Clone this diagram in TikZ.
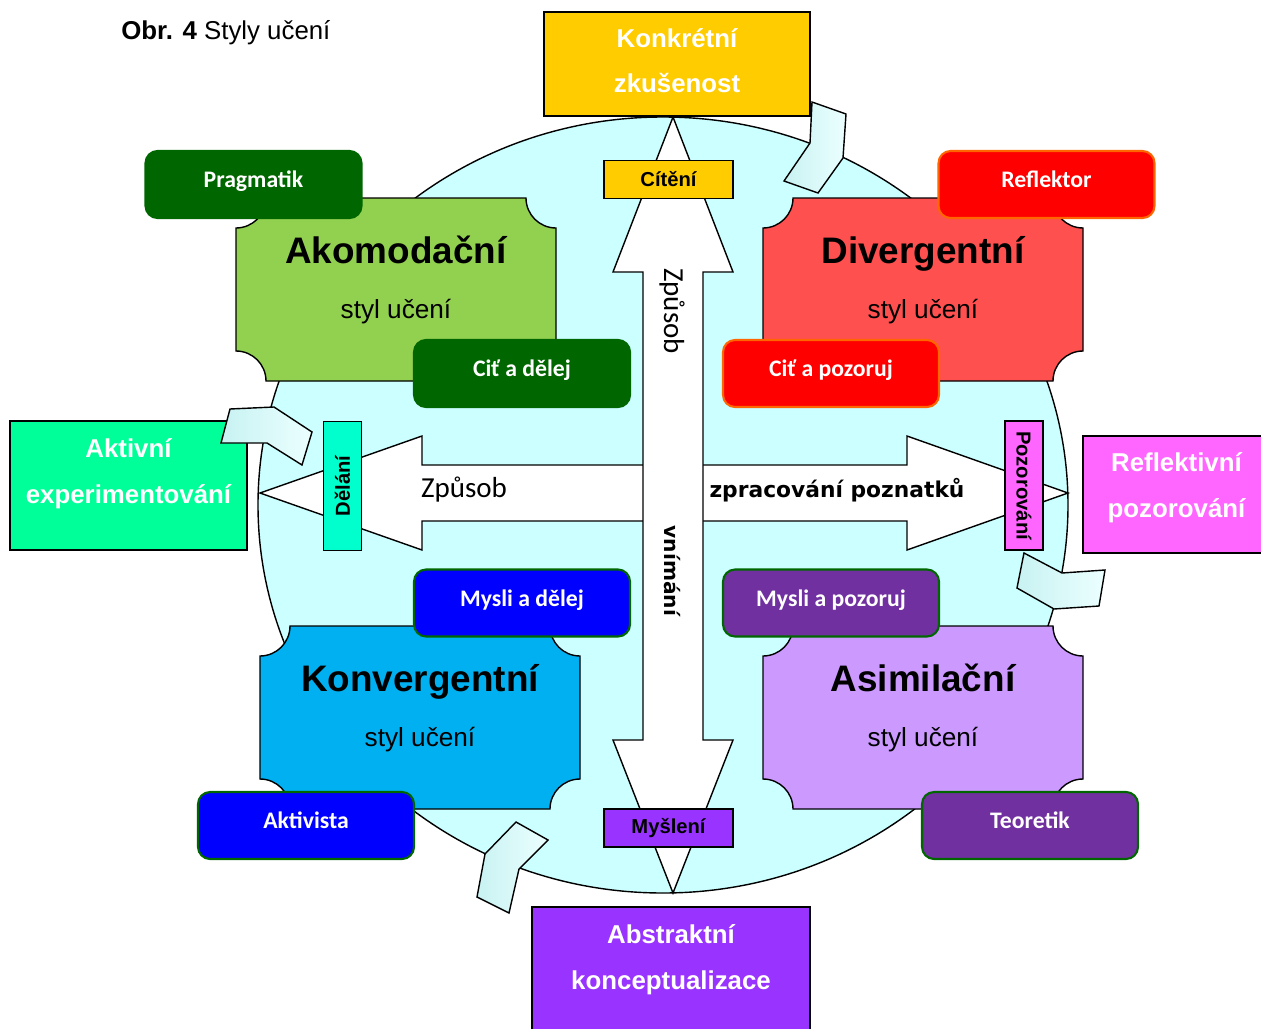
\documentclass[tikz,border=0pt]{standalone}
\usepackage{fontspec}
\setmainfont{Liberation Sans}
\newfontfamily\calibri{Carlito}
\newfontfamily\comic{DejaVu Sans}
\usepackage{xcolor}
\definecolor{ringcyan}{RGB}{204,255,255}
\definecolor{konkfill}{RGB}{255,204,0}
\definecolor{abstrfill}{RGB}{153,51,255}
\definecolor{aktfill}{RGB}{0,255,153}
\definecolor{reflfill}{RGB}{255,102,255}
\definecolor{dofill}{RGB}{0,255,204}
\definecolor{akomfill}{RGB}{146,208,80}
\definecolor{divfill}{RGB}{255,80,80}
\definecolor{konvfill}{RGB}{0,176,240}
\definecolor{asimfill}{RGB}{204,153,255}
\definecolor{darkgreen}{RGB}{0,102,0}
\definecolor{tagred}{RGB}{255,0,0}
\definecolor{tagorange}{RGB}{255,102,0}
\definecolor{tagblue}{RGB}{0,0,255}
\definecolor{tagpurple}{RGB}{112,48,160}
\definecolor{chevA}{RGB}{200,242,242}
\definecolor{chevB}{RGB}{236,255,255}

% plaque with concave corners: x1, y1, x2, y2, fill
\newcommand{\plaque}[5]{%
  \draw[line width=0.8pt, fill=#5] (#1+30,#2) -- (#3-30,#2)
    arc[start angle=180, end angle=90, radius=30] -- (#3,#4-30)
    arc[start angle=270, end angle=180, radius=30] -- (#1+30,#4)
    arc[start angle=0, end angle=-90, radius=30] -- (#1,#2+30)
    arc[start angle=90, end angle=0, radius=30] -- cycle;}

\begin{document}
\begin{tikzpicture}[x=0.02cm, y=-0.02cm,
    stage/.style={rectangle, draw=black, line width=0.8pt, text=white, font=\bfseries\fontsize{14.7}{26}\selectfont, align=center, inner sep=0pt},
    plaquetext/.style={align=center, font=\fontsize{14.9}{31}\selectfont, inner sep=0pt},
    tag/.style={rectangle, rounded corners=0.24cm, line width=1.2pt, text=white, font=\calibri\bfseries\fontsize{13.5}{16}\selectfont, minimum width=4.32cm, text height=0.73cm, text depth=0.61cm, inner ysep=0pt},
    pole/.style={rectangle, draw=black, line width=0.8pt, font=\bfseries\fontsize{11.5}{14}\selectfont, minimum width=2.58cm, minimum height=0.76cm, inner sep=0pt},
    bigarrow/.style={draw=black, fill=white, line width=0.8pt, line join=miter},
    turnpiece/.style={draw=black, line width=0.8pt, left color=chevA, right color=chevB}
]
\useasboundingbox (0,0) rectangle (1261,1028);

% ring
\draw[line width=0.8pt, fill=ringcyan] (663,505) ellipse [x radius=405, y radius=388];

% the two axes
\draw[bigarrow] (260,493) -- (422,436) -- (422,465) -- (907,465) -- (907,436) -- (1068,493)
  -- (907,550) -- (907,521) -- (422,521) -- (422,550) -- cycle;
\draw[bigarrow] (673,117) -- (733,272) -- (703,272) -- (703,740) -- (733,740) -- (673,893)
  -- (613,740) -- (643,740) -- (643,272) -- (613,272) -- cycle;

\node[font=\calibri\fontsize{16.5}{20}\selectfont] (wayh) at (464,490) {Způsob};
\node[font=\calibri\fontsize{16.5}{20}\selectfont, rotate=-90] (wayv) at (672,311) {Způsob};
\node[font=\comic\bfseries\fontsize{12.4}{15}\selectfont] (proc) at (837,490) {zpracování poznatků};
\node[font=\comic\bfseries\fontsize{11.5}{15}\selectfont, rotate=-90] (perc) at (672,571) {vnímání};

\node[pole, fill=konkfill] (feel) at (668.5,179.5) {Cítění};
\node[pole, fill=abstrfill] (think) at (668.5,828) {Myšlení};
\node[pole, fill=dofill, rotate=90] (doing) at (342.5,486) {Dělání};
\node[pole, fill=reflfill, rotate=-90] (watching) at (1024,485.5) {Pozorování};

% learning styles
\plaque{236}{198}{556}{381}{akomfill}
\plaque{763}{198}{1083}{381}{divfill}
\plaque{260}{626}{580}{809}{konvfill}
\plaque{763}{626}{1083}{809}{asimfill}

\node[plaquetext] (akom) at (396,280) {{\bfseries\fontsize{21}{31}\selectfont Akomodační}\\styl učení};
\node[plaquetext] (diver) at (923,280) {{\bfseries\fontsize{21}{31}\selectfont Divergentní}\\styl učení};
\node[plaquetext] (konv) at (420,708) {{\bfseries\fontsize{21}{31}\selectfont Konvergentní}\\styl učení};
\node[plaquetext] (asim) at (923,708) {{\bfseries\fontsize{21}{31}\selectfont Asimilační}\\styl učení};

\node[tag, draw=darkgreen, fill=darkgreen] (prag) at (253.5,184.5) {Pragmatik};
\node[tag, draw=tagorange, fill=tagred] (refl) at (1046.5,184.5) {Reflektor};
\node[tag, draw=darkgreen, fill=darkgreen] (feeldo) at (522,373.5) {Ciť a dělej};
\node[tag, draw=tagorange, fill=tagred] (feelwatch) at (831,373.5) {Ciť a pozoruj};
\node[tag, draw=darkgreen, fill=tagblue] (thinkdo) at (522,603) {Mysli a dělej};
\node[tag, draw=darkgreen, fill=tagpurple] (thinkwatch) at (831,603) {Mysli a pozoruj};
\node[tag, draw=darkgreen, fill=tagblue] (activ) at (306,825.5) {Aktivista};
\node[tag, draw=darkgreen, fill=tagpurple] (theor) at (1030,825.5) {Teoretik};

% the four stages
\node[stage, fill=konkfill, minimum width=5.32cm, text height=1.62cm, text depth=0.46cm] (konkret) at (677,64) {Konkrétní\\zkušenost};
\node[stage, fill=reflfill, minimum width=3.74cm, text height=1.62cm, text depth=0.72cm] (reflekt) at (1176.5,494.5) {Reflektivní\\pozorování};
\node[stage, fill=abstrfill, minimum width=5.56cm, text height=1.64cm, text depth=1.02cm] (abstr) at (671,973.5) {Abstraktní\\konceptualizace};
\node[stage, fill=aktfill, minimum width=4.74cm, text height=1.64cm, text depth=0.94cm] (aktiv) at (128.5,485.5) {Aktivní\\experimentování};

% bends of the cycle
\draw[turnpiece] (812,102) -- (846,114) -- (843,158) -- (818,193) -- (784,181) -- (810,143) -- cycle;
\draw[turnpiece] (1024,553) -- (1062,573) -- (1105,570) -- (1099,606) -- (1054,609) -- (1017,588) -- cycle;
\draw[turnpiece] (516,822) -- (548,840) -- (519,869) -- (509,913) -- (477,897) -- (485,854) -- cycle;
\draw[turnpiece] (230,409) -- (274,407) -- (312,432) -- (302,465) -- (267,443) -- (221,443) -- cycle;

\node[anchor=west, inner sep=0pt, font=\fontsize{14.7}{17}\selectfont] (title) at (121,33) {\textbf{Obr. 4} Styly učení};

\end{tikzpicture}
\end{document}
